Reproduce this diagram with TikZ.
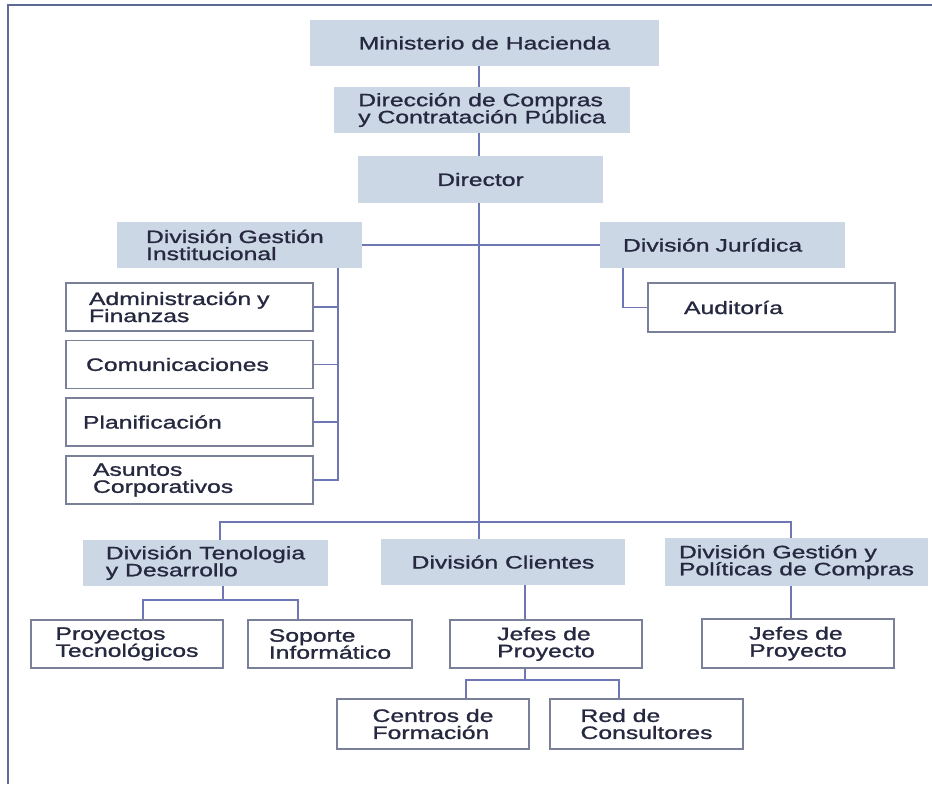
\documentclass[tikz,border=0pt]{standalone}
\usepackage{fontspec}
\setmainfont{Liberation Sans}[FakeStretch=1.38, FakeBold=1.2]
\usepackage{tikz}
\usetikzlibrary{positioning}

\definecolor{boxfill}{HTML}{CCD7E6}
\definecolor{ink}{HTML}{262840}
\definecolor{edge}{HTML}{7A8098}
\definecolor{wire}{HTML}{6E76B4}
\definecolor{frame}{HTML}{5E6A94}

\begin{document}
\begin{tikzpicture}[x=0.02cm, y=-0.02cm,
    every node/.style={font=\fontsize{10.2}{9.7}\selectfont, text=ink},
    unit/.style={rectangle, fill=boxfill, minimum height=0.92cm, align=left},
    post/.style={rectangle, draw=edge, line width=0.8pt, fill=white, minimum height=0.96cm, align=left},
    link/.style={draw=wire, line width=0.8pt}]
    \useasboundingbox (0,0) rectangle (932,784);
    \draw[frame, line width=1.6pt] (932,5) -- (8,5) -- (8,784);

    % top of the chart
    \node[unit, minimum width=6.98cm] (min) at (484.5,43) {Ministerio de Hacienda};
    \node[unit, minimum width=5.92cm] (dir) at (482,110) {Dirección de Compras\\y Contratación Pública};
    \node[unit, minimum width=4.9cm, minimum height=0.94cm] (director) at (480.5,179.5) {Director};

    \node[unit, text width=3.74cm, inner xsep=0.58cm] (dgi) at (239.5,245) {División Gestión\\Institucional};
    \node[unit, text width=3.98cm, inner xsep=0.46cm] (dj) at (722.5,245) {División Jurídica};
    \node[post, text width=3.5cm, inner xsep=0.72cm, minimum height=0.98cm] (aud) at (771.5,307.5) {Auditoría};

    \node[post, text width=4.02cm, inner xsep=0.46cm] (adm) at (189.5,307) {Administración y\\Finanzas};
    \node[post, text width=4.14cm, inner xsep=0.40cm] (com) at (189.5,364.5) {Comunicaciones};
    \node[post, text width=4.26cm, inner xsep=0.34cm] (pla) at (189.5,422) {Planificación};
    \node[post, text width=3.86cm, inner xsep=0.54cm] (asu) at (189.5,480) {Asuntos\\Corporativos};

    % divisions
    \node[unit, minimum width=4.9cm] (dtd) at (205.5,563) {División Tenologia\\y Desarrollo};
    \node[unit, minimum width=4.88cm] (dc) at (503,562) {División Clientes};
    \node[unit, minimum width=5.26cm, minimum height=0.96cm] (dgp) at (796.5,562) {División Gestión y\\Políticas de Compras};

    \node[post, minimum width=3.84cm] (pt) at (127,644) {Proyectos\\Tecnológicos};
    \node[post, minimum width=3.28cm] (sop) at (330,644) {Soporte\\Informático};
    \node[post, minimum width=3.84cm] (jc) at (546,644) {Jefes de\\Proyecto};
    \node[post, minimum width=3.84cm, minimum height=0.98cm] (jg) at (798,643.5) {Jefes de\\Proyecto};

    \node[post, minimum width=3.84cm, minimum height=1cm] (cf) at (433,724) {Centros de\\Formación};
    \node[post, minimum width=3.86cm, minimum height=1cm] (rc) at (646.5,724) {Red de\\Consultores};

    % connectors
    \coordinate (spine) at (479,0);
    \coordinate (gik) at (338,0);
    \coordinate (jk) at (623,0);
    \coordinate (tdk) at (220,522);
    \coordinate (gpk) at (791,522);
    \coordinate (tk) at (223,600);
    \coordinate (ptk) at (143,600);
    \coordinate (sik) at (298,600);
    \coordinate (ck) at (525,0);
    \coordinate (cfk) at (466,680);
    \coordinate (rck) at (619,680);

    \draw[link] (min.south -| spine) -- (dir.north -| spine);
    \draw[link] (dir.south -| spine) -- (director.north -| spine);
    \draw[link] (director.south -| spine) -- (dc.north -| spine);
    \draw[link] (dgi.east) -- (dj.west);

    \draw[link] (dgi.south -| gik) -- (asu.east -| gik) -- (asu.east);
    \foreach \s in {adm,com,pla}
        \draw[link] (\s.east) -- (\s.east -| gik);
    \draw[link] (dj.south -| jk) |- (aud.west);

    \draw[link] (dtd.north -| tdk) -- (tdk) -- (gpk) -- (dgp.north -| gpk);
    \draw[link] (dtd.south -| tk) -- (tk);
    \draw[link] (pt.north -| ptk) -- (ptk) -- (sik) -- (sop.north -| sik);
    \draw[link] (dc.south -| ck) -- (jc.north -| ck);
    \draw[link] (jc.south -| ck) -- (ck |- cfk);
    \draw[link] (cf.north -| cfk) -- (cfk) -- (rck) -- (rc.north -| rck);
    \draw[link] (dgp.south -| gpk) -- (jg.north -| gpk);
\end{tikzpicture}
\end{document}
